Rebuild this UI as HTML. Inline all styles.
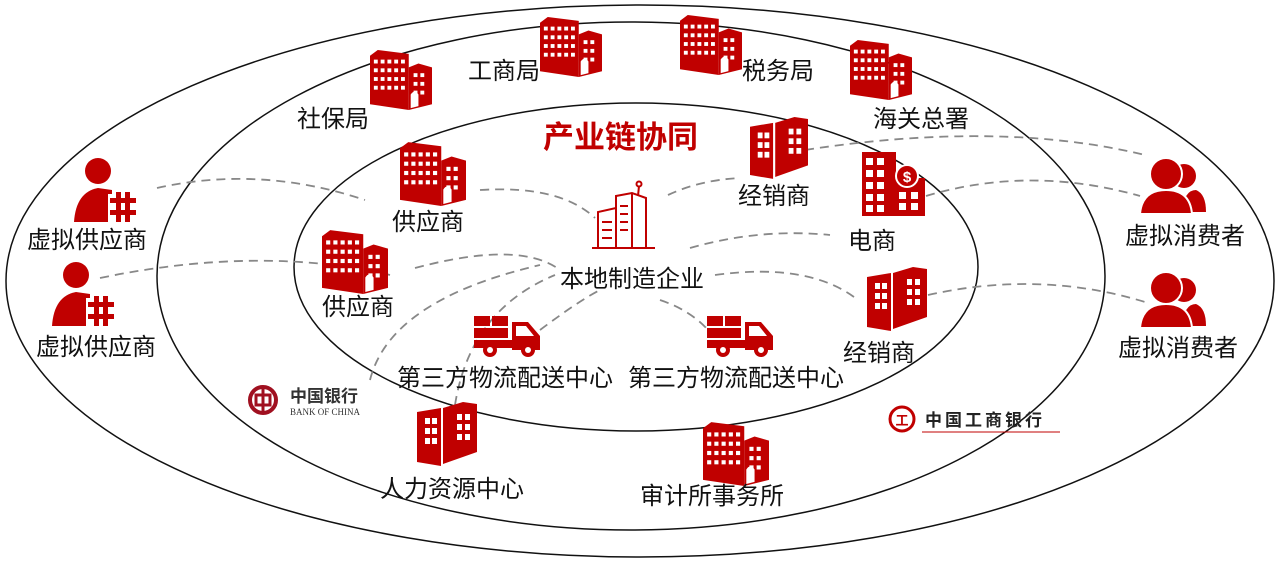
<!DOCTYPE html>
<html><head><meta charset="utf-8"><style>
html,body{margin:0;padding:0;background:#fff;width:1280px;height:570px;overflow:hidden}
svg text{font-family:"Liberation Sans","Noto Sans CJK SC",sans-serif;fill:#111;font-size:24px}
</style></head><body>
<svg width="1280" height="570" viewBox="0 0 1280 570" xmlns="http://www.w3.org/2000/svg">
<defs>
<symbol id="bld" viewBox="0 0 64 64">
<path d="M0 8 L8 2 L40 6 L40 64 L0 58Z" fill="#c00000"/>
<path d="M40 20 L50 16 L64 20 L64 58 L40 64Z" fill="#c00000"/>
<g fill="#fff">
<rect x="4" y="12" width="4" height="4"/><rect x="11" y="12" width="4" height="4"/><rect x="18" y="12" width="4" height="4"/><rect x="25" y="12" width="4" height="4"/><rect x="32" y="12" width="4" height="4"/>
<rect x="4" y="21" width="4" height="4"/><rect x="11" y="21" width="4" height="4"/><rect x="18" y="21" width="4" height="4"/><rect x="25" y="21" width="4" height="4"/><rect x="32" y="21" width="4" height="4"/>
<rect x="4" y="30" width="4" height="4"/><rect x="11" y="30" width="4" height="4"/><rect x="18" y="30" width="4" height="4"/><rect x="25" y="30" width="4" height="4"/><rect x="32" y="30" width="4" height="4"/>
<rect x="4" y="39" width="4" height="4"/><rect x="11" y="39" width="4" height="4"/><rect x="18" y="39" width="4" height="4"/><rect x="25" y="39" width="4" height="4"/><rect x="32" y="39" width="4" height="4"/>
<rect x="45" y="26" width="4" height="4"/><rect x="52" y="26" width="4" height="4"/><rect x="45" y="35" width="4" height="4"/><rect x="52" y="35" width="4" height="4"/><rect x="45" y="44" width="4" height="4"/><rect x="52" y="44" width="4" height="4"/>
<path d="M42 62 L42 48 Q46 42 50 48 L50 60Z"/>
</g></symbol>
<symbol id="off" viewBox="0 0 60 66">
<path d="M0 12 L24 8 L24 66 L0 62Z" fill="#c00000"/>
<path d="M26 8 L46 2 L60 4 L60 52 L26 64Z" fill="#c00000"/>
<g fill="#fff"><rect x="8" y="18" width="5" height="6"/><rect x="15" y="18" width="5" height="6"/><rect x="8" y="28" width="5" height="6"/><rect x="15" y="28" width="5" height="6"/><rect x="8" y="38" width="5" height="6"/><rect x="15" y="38" width="5" height="6"/>
<rect x="40" y="14" width="5" height="6"/><rect x="48" y="14" width="5" height="6"/><rect x="40" y="24" width="5" height="6"/><rect x="48" y="24" width="5" height="6"/><rect x="40" y="34" width="5" height="6"/><rect x="48" y="34" width="5" height="6"/>
<rect x="24" y="8" width="2" height="58"/></g></symbol>
<symbol id="vp" viewBox="0 0 64 64">
<circle cx="26" cy="13" r="13" fill="#c00000"/>
<path d="M2 64 Q4 34 26 30 L40 32 L40 64Z" fill="#c00000"/>
<rect x="36" y="36" width="26" height="28" fill="#fff"/>
<g fill="#c00000"><rect x="44" y="34" width="5" height="30"/><rect x="53" y="34" width="5" height="30"/><rect x="38" y="40" width="26" height="5"/><rect x="38" y="52" width="26" height="5"/></g>
</symbol>
<symbol id="vc" viewBox="0 0 66 56">
<circle cx="44" cy="18" r="12" fill="#c00000"/>
<path d="M42 54 Q44 32 56 32 Q66 36 66 54Z" fill="#c00000"/>
<circle cx="26" cy="16" r="16" fill="#c00000" stroke="#fff" stroke-width="2"/>
<path d="M0 56 Q2 32 26 32 Q50 32 52 56Z" fill="#c00000" stroke="#fff" stroke-width="2"/>
</symbol>
<symbol id="trk" viewBox="0 0 66 42">
<g fill="#c00000"><rect x="0" y="0" width="16" height="10"/><rect x="18" y="0" width="16" height="10"/><rect x="0" y="12" width="34" height="10"/><rect x="0" y="24" width="40" height="8"/>
<path d="M38 6 L54 6 L66 20 L66 34 L38 34Z"/><circle cx="16" cy="34" r="7"/><circle cx="54" cy="34" r="7"/></g>
<path d="M42 10 L52 10 L60 20 L42 20Z" fill="#fff"/><circle cx="16" cy="34" r="3" fill="#fff"/><circle cx="54" cy="34" r="3" fill="#fff"/>
</symbol>
</defs>

<g fill="none" stroke="#111" stroke-width="1.5">
<ellipse cx="640" cy="281" rx="634" ry="276"/>
<ellipse cx="631" cy="276" rx="474" ry="254"/>
<ellipse cx="636" cy="267" rx="342" ry="164"/>
</g>

<g fill="none" stroke="#888" stroke-width="1.8" stroke-dasharray="9,6">
<path d="M157 188 Q260 165 365 200"/>
<path d="M100 278 Q260 245 390 275"/>
<path d="M480 190 Q560 185 595 218"/>
<path d="M668 195 Q700 180 740 178"/>
<path d="M805 150 Q1000 120 1145 155"/>
<path d="M926 196 Q1030 165 1140 196"/>
<path d="M690 248 Q760 228 830 235"/>
<path d="M415 268 Q520 240 560 270"/>
<path d="M715 275 Q810 262 858 300"/>
<path d="M928 295 Q1040 270 1145 302"/>
<path d="M540 330 Q580 300 600 290"/>
<path d="M660 300 Q690 310 708 330"/>
<path d="M370 380 Q390 300 540 265"/>
<path d="M455 405 Q470 310 555 275"/>
</g>

<use href="#bld" x="370" y="48" width="62" height="62"/>
<use href="#bld" x="540" y="15" width="62" height="62"/>
<use href="#bld" x="680" y="13" width="62" height="62"/>
<use href="#bld" x="850" y="38" width="62" height="62"/>
<use href="#bld" x="400" y="140" width="66" height="66"/>
<use href="#bld" x="322" y="228" width="66" height="66"/>
<use href="#bld" x="703" y="420" width="66" height="66"/>
<use href="#off" x="750" y="115" width="58" height="64"/>
<use href="#off" x="866" y="265" width="62" height="66"/>
<use href="#off" x="417" y="400" width="60" height="66"/>

<g>
<rect x="862" y="152" width="34" height="64" fill="#c00000"/>
<rect x="895" y="178" width="30" height="38" fill="#c00000"/>
<g fill="#fff"><rect x="866" y="158" width="7" height="7"/><rect x="877" y="158" width="7" height="7"/><rect x="866" y="170" width="7" height="7"/><rect x="877" y="170" width="7" height="7"/><rect x="866" y="182" width="7" height="7"/><rect x="877" y="182" width="7" height="7"/><rect x="866" y="194" width="7" height="7"/><rect x="877" y="194" width="7" height="7"/><rect x="866" y="205" width="7" height="7"/><rect x="877" y="205" width="7" height="7"/>
<rect x="899" y="192" width="7" height="7"/><rect x="911" y="192" width="7" height="7"/><rect x="899" y="203" width="7" height="7"/><rect x="911" y="203" width="7" height="7"/></g>
<circle cx="907" cy="176" r="11" fill="#c00000" stroke="#fff" stroke-width="2"/>
<text x="907" y="182" text-anchor="middle" style="fill:#fff;font-size:15px;font-weight:bold">$</text>
</g>

<g fill="none" stroke="#c00000" stroke-width="2">
<path d="M592 248 L655 248"/>
<path d="M598 248 L598 212 L616 208 L616 248"/>
<path d="M616 208 L616 196 L632 193 L646 198 L646 248"/>
<line x1="632" y1="193" x2="632" y2="248"/>
<line x1="638" y1="196" x2="639" y2="186"/><circle cx="639" cy="184" r="2.5"/>
<line x1="602" y1="222" x2="612" y2="222"/><line x1="602" y1="230" x2="612" y2="230"/><line x1="602" y1="238" x2="612" y2="238"/>
<line x1="620" y1="206" x2="628" y2="206"/><line x1="620" y1="214" x2="628" y2="214"/><line x1="620" y1="222" x2="628" y2="222"/><line x1="620" y1="230" x2="628" y2="230"/>
</g>

<use href="#trk" x="474" y="316" width="66" height="42"/>
<use href="#trk" x="707" y="316" width="66" height="42"/>

<use href="#vp" x="72" y="158" width="64" height="64"/>
<use href="#vp" x="50" y="262" width="64" height="64"/>
<use href="#vc" x="1140" y="158" width="66" height="56"/>
<use href="#vc" x="1140" y="272" width="66" height="56"/>

<g>
<circle cx="263" cy="400" r="13" fill="none" stroke="#a01020" stroke-width="4"/>
<rect x="256" y="395" width="14" height="10" fill="none" stroke="#a01020" stroke-width="3"/>
<line x1="263" y1="386" x2="263" y2="414" stroke="#a01020" stroke-width="3"/>
<text x="290" y="402" style="font-size:17px;font-weight:bold;fill:#333">中国银行</text>
<text x="290" y="415" style="font-size:9px;font-family:'Liberation Serif',serif;fill:#333">BANK OF CHINA</text>
</g>
<g>
<circle cx="902" cy="419" r="12" fill="none" stroke="#c00000" stroke-width="3"/>
<text x="902" y="425" text-anchor="middle" style="font-size:13px;fill:#c00000;font-weight:bold">工</text>
<text x="925" y="426" style="font-size:17px;font-weight:bold;fill:#222;letter-spacing:3px">中国工商银行</text>
<line x1="922" y1="432" x2="1060" y2="432" stroke="#c00000" stroke-width="1"/>
</g>

<text x="543" y="148" style="fill:#c00000;font-size:31px;font-weight:bold">产业链协同</text>
<text x="297" y="127">社保局</text>
<text x="468" y="79">工商局</text>
<text x="742" y="79">税务局</text>
<text x="873" y="127">海关总署</text>
<text x="392" y="230">供应商</text>
<text x="322" y="315">供应商</text>
<text x="560" y="287">本地制造企业</text>
<text x="738" y="204">经销商</text>
<text x="848" y="249">电商</text>
<text x="843" y="361">经销商</text>
<text x="397" y="386">第三方物流配送中心</text>
<text x="628" y="386">第三方物流配送中心</text>
<text x="380" y="497">人力资源中心</text>
<text x="640" y="504">审计所事务所</text>
<text x="27" y="248">虚拟供应商</text>
<text x="36" y="355">虚拟供应商</text>
<text x="1125" y="244">虚拟消费者</text>
<text x="1118" y="356">虚拟消费者</text>
</svg>
</body></html>
